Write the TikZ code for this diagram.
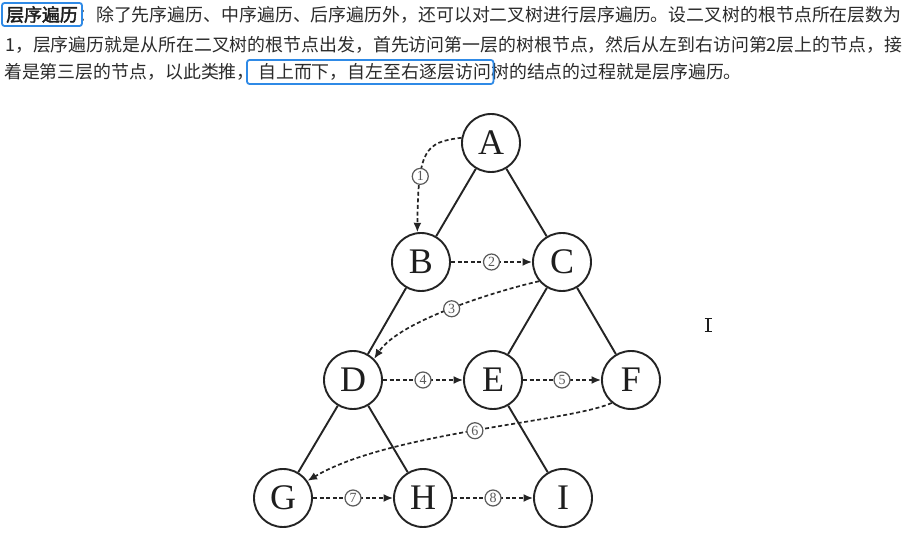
\documentclass[tikz,border=0pt]{standalone}
\usepackage{fontspec}
\setmainfont{Liberation Serif}
\newfontfamily\cjk{Noto Sans CJK SC}
\newfontfamily\cjkb[FakeBold=2.2]{Noto Sans CJK SC}
\usetikzlibrary{arrows.meta}
\definecolor{txt}{HTML}{2B2B2B}
\definecolor{txtdark}{HTML}{1E1E1E}
\definecolor{hl}{HTML}{2F8AE6}
\definecolor{ln}{HTML}{242424}
\definecolor{numc}{HTML}{5A5A5A}
\begin{document}
\begin{tikzpicture}[x=1pt,y=-1pt,
  treenode/.style={circle, draw=ln, line width=1.9pt, minimum size=58pt, inner sep=0pt,
    font=\fontsize{36}{36}\selectfont, text=txtdark, fill=white},
  treeedge/.style={draw=ln, line width=1.9pt},
  arr/.style={draw=ln, line width=1.7pt, dash pattern=on 4pt off 2.6pt,
    -{Latex[length=9.5pt,width=8pt]}},
  num/.style={solid, circle, draw=numc, line width=1.2pt, fill=white, inner sep=0pt,
    minimum size=16pt, text=numc, font=\fontsize{14}{14}\selectfont},
  txtline/.style={anchor=base west, inner sep=0pt, text=txt, font=\cjk\fontsize{17.9}{17.9}\selectfont},
  txtbold/.style={anchor=base west, inner sep=0pt, text=txtdark, font=\cjkb\fontsize{17.9}{17.9}\selectfont},
  hlbox/.style={draw=hl, line width=1.8pt, rounded corners=2.5pt},
  cursorbar/.style={draw=txtdark}
]
\useasboundingbox[fill=white] (0,0) rectangle (921,534);

% ---- text ----
\node[txtbold] (t1a) at (6,21.3) {层序遍历};
\node[txtline] (t1b) at (78,21.3) {：除了先序遍历、中序遍历、后序遍历外，还可以对二叉树进行层序遍历。设二叉树的根节点所在层数为};
\node[txtline] (t2) at (5,51.8) {1，层序遍历就是从所在二叉树的根节点出发，首先访问第一层的树根节点，然后从左到右访问第2层上的节点，接};
\node[txtline] (t3a) at (4,78.8) {着是第三层的节点，以此类推，};
\node[txtline] (t3b) at (258,78.8) {自上而下，自左至右逐层访问};
\node[txtline] (t3c) at (491,78.8) {树的结点的过程就是层序遍历。};

\draw[hlbox] ([xshift=-4pt,yshift=18.3pt]t1a.base west) rectangle ([xshift=4pt,yshift=-4.7pt]t1a.base east);
\draw[hlbox] ([xshift=-11pt,yshift=18.8pt]t3b.base west) rectangle ([xshift=2.3pt,yshift=-5.2pt]t3b.base east);

% ---- tree ----
\node[treenode] (A) at (491,143) {A};
\node[treenode] (B) at (421,262) {B};
\node[treenode] (C) at (562,262) {C};
\node[treenode] (D) at (353,380) {D};
\node[treenode] (E) at (493,380) {E};
\node[treenode] (F) at (631,380) {F};
\node[treenode] (G) at (283,498) {G};
\node[treenode] (H) at (423,498) {H};
\node[treenode] (I) at (563,498) {I};

\draw[treeedge] (A) -- (B);
\draw[treeedge] (A) -- (C);
\draw[treeedge] (B) -- (D);
\draw[treeedge] (C) -- (E);
\draw[treeedge] (C) -- (F);
\draw[treeedge] (D) -- (G);
\draw[treeedge] (D) -- (H);
\draw[treeedge] (E) -- (I);

% ---- traversal arrows ----
\draw[arr] (A.170) .. controls (425,142) and (418,150) .. (B.97) node[num,pos=0.7] {1};
\draw[arr] (B) -- (C) node[num,midway] {2};
\draw[arr] (C.220) .. controls (500,290) and (400,320) .. (D.45) node[num,pos=0.5] {3};
\draw[arr] (D) -- (E) node[num,midway] {4};
\draw[arr] (E) -- (F) node[num,midway] {5};
\draw[arr] (F.230) .. controls (570,422) and (390,432) .. (G.35) node[num,pos=0.5] {6};
\draw[arr] (G) -- (H) node[num,midway] {7};
\draw[arr] (H) -- (I) node[num,midway] {8};

% ---- text cursor ----
\draw[cursorbar, line width=2.6pt] (708,319) -- (708,331);
\draw[cursorbar, line width=1.4pt] (704.5,318.5) -- (711.5,318.5);
\draw[cursorbar, line width=1.4pt] (704.5,331.5) -- (711.5,331.5);
\end{tikzpicture}
\end{document}
